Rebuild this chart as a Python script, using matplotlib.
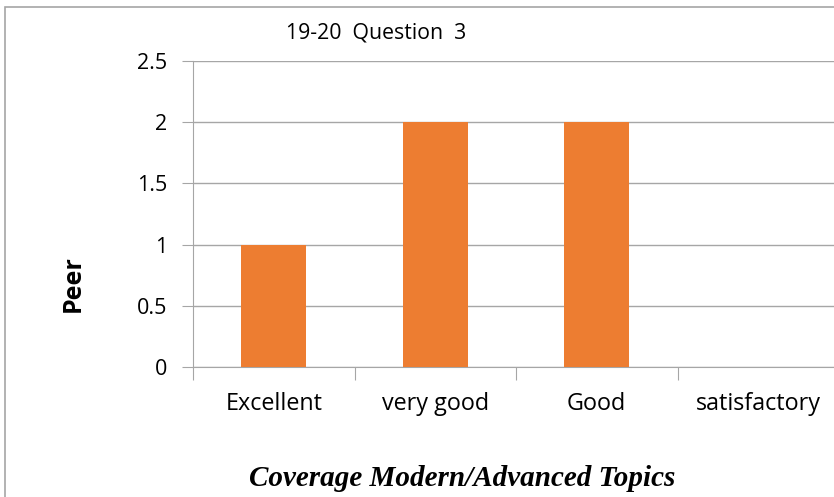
import matplotlib
matplotlib.use("Agg")
import matplotlib.pyplot as plt
from matplotlib.patches import Rectangle

categories = ["Excellent", "very good", "Good", "satisfactory"]
values = [1, 2, 2, 0]
yticks = [0, 0.5, 1, 1.5, 2, 2.5]
ytick_labels = ["0", "0.5", "1", "1.5", "2", "2.5"]
title = "19-20  Question  3"
xlabel = "Coverage Modern/Advanced Topics"
ylabel = "Peer"

W, H = 834, 497
fig = plt.figure(figsize=(W / 100, H / 100), dpi=100)
fig.patch.set_facecolor("white")

# outer frame (cut at right/bottom in reference)
fig.patches.append(Rectangle((5 / W, -0.05), 1.2, 1 - 7 / H + 0.05,
                             transform=fig.transFigure, fill=False,
                             edgecolor="#a6a6a6", linewidth=1.2))

ax = fig.add_axes([193 / W, 1 - 367 / H, (839 - 193) / W, (367 - 61) / H])
ax.set_xlim(0, len(categories))
ax.set_ylim(0, 2.5)
x = [i + 0.5 for i in range(len(categories))]
ax.bar(x, values, width=0.4, color="#ED7D31", zorder=3)

ax.set_yticks(yticks)
ax.set_yticklabels(ytick_labels, fontsize=15.5, family="Open Sans")
ax.yaxis.grid(True, color="#a6a6a6", linewidth=1.0, zorder=0)
ax.tick_params(axis="y", length=8, color="#a6a6a6", pad=10.5)

ax.set_xticks(range(len(categories) + 1), minor=False)
ax.set_xticklabels([""] * (len(categories) + 1))
ax.tick_params(axis="x", which="major", length=9, color="#a6a6a6")
ax.set_xticks(x, minor=True)
ax.set_xticklabels(categories, minor=True, fontsize=16.8, family="Open Sans")
ax.tick_params(axis="x", which="minor", length=0, pad=18)

for s in ["top", "right"]:
    ax.spines[s].set_visible(False)
ax.spines["left"].set_color("#a6a6a6")
ax.spines["bottom"].set_color("#a6a6a6")

fig.text(376 / W, 1 - 33 / H, title, ha="center", va="center",
         fontsize=15.3, family="Open Sans")
fig.text(462 / W, 1 - 479 / H, xlabel, ha="center", va="center",
         fontsize=21, family="Liberation Serif", style="italic", weight="bold")
fig.text(73 / W, 1 - 284 / H, ylabel, ha="center", va="center", rotation=90,
         fontsize=18, family="Open Sans", weight="bold")

fig.savefig("out.png", dpi=100)
